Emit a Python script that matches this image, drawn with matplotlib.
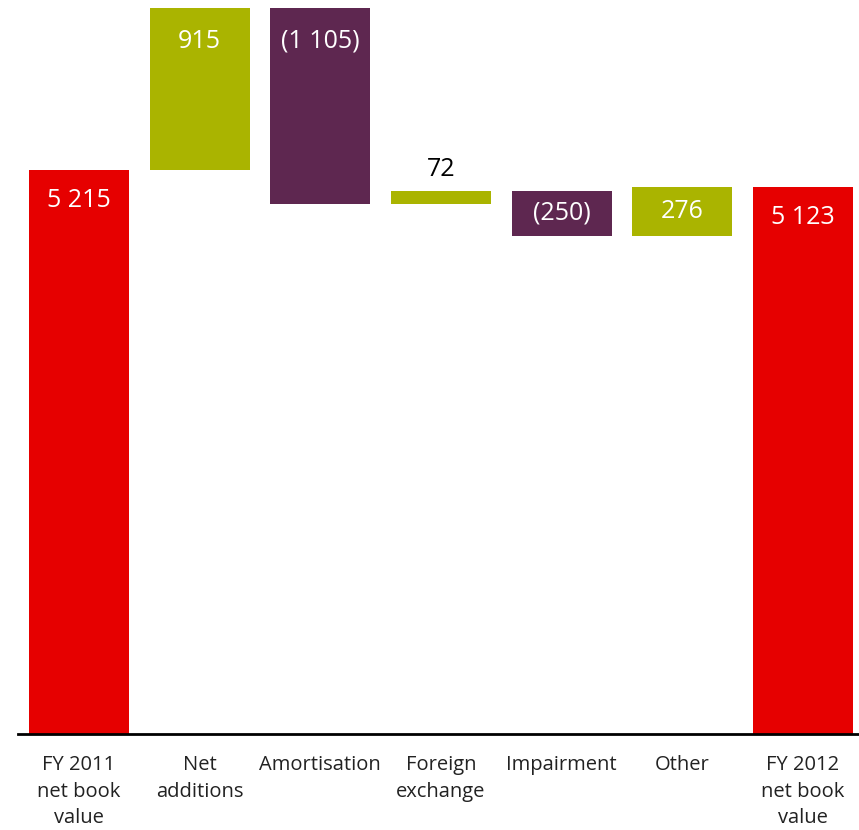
import matplotlib.pyplot as plt

# net book value movement, FY 2011 -> FY 2012
categories = ["FY 2011\nnet book\nvalue", "Net\nadditions", "Amortisation",
              "Foreign\nexchange", "Impairment", "Other", "FY 2012\nnet book\nvalue"]
opening = 5215
changes = [915, -1105, 72, -250, 276]
closing = 5123
value_labels = ["5 215", "915", "(1 105)", "72", "(250)", "276", "5 123"]

red = "#E60000"
green = "#AAB400"
purple = "#5E2750"

plt.rcParams['font.family'] = ['Open Sans', 'DejaVu Sans']

fig = plt.figure(figsize=(8.59, 8.30), dpi=100)
ax = fig.add_axes([18 / 859, 1 - 734 / 830, 1 - 18 / 859, 734 / 830])

w = 0.83
# totals
ax.bar(0, opening, width=w, color=red)
ax.bar(6, closing, width=w, color=red)

# floating bars
run = opening
bottoms = []
for i, d in enumerate(changes):
    lo = run if d > 0 else run + d
    ax.bar(i + 1, abs(d), bottom=lo, width=w, color=green if d > 0 else purple)
    bottoms.append(lo)
    run += d

fs = 18
# value labels
ax.annotate(value_labels[0], (0, opening), xytext=(0, -22), textcoords="offset points",
            ha="center", va="center", color="white", fontsize=fs)
ax.annotate(value_labels[6], (6, closing), xytext=(0, -22), textcoords="offset points",
            ha="center", va="center", color="white", fontsize=fs)
for i, d in enumerate(changes):
    top = bottoms[i] + abs(d)
    if abs(d) > 500:
        ax.annotate(value_labels[i + 1], (i + 1, top), xytext=(0, -24), textcoords="offset points",
                    ha="center", va="center", color="white", fontsize=fs)
    elif abs(d) < 100:
        ax.annotate(value_labels[i + 1], (i + 1, top), xytext=(0, 16), textcoords="offset points",
                    ha="center", va="center", color="black", fontsize=fs)
    else:
        ax.text(i + 1, bottoms[i] + abs(d) / 2, value_labels[i + 1],
                ha="center", va="center", color="white", fontsize=fs)

ax.set_xlim(-0.505, 6.464)
ax.set_ylim(2038, 6175)
ax.set_xticks(range(len(categories)))
ax.set_xticklabels(categories, fontsize=14.5, color="#222222", linespacing=1.45, va="top")
ax.tick_params(axis="x", length=0, pad=15)
ax.set_yticks([])
for s in ["top", "right", "left"]:
    ax.spines[s].set_visible(False)
ax.spines["bottom"].set_linewidth(2)
ax.spines["bottom"].set_color("black")

fig.savefig("out.png", dpi=100)
